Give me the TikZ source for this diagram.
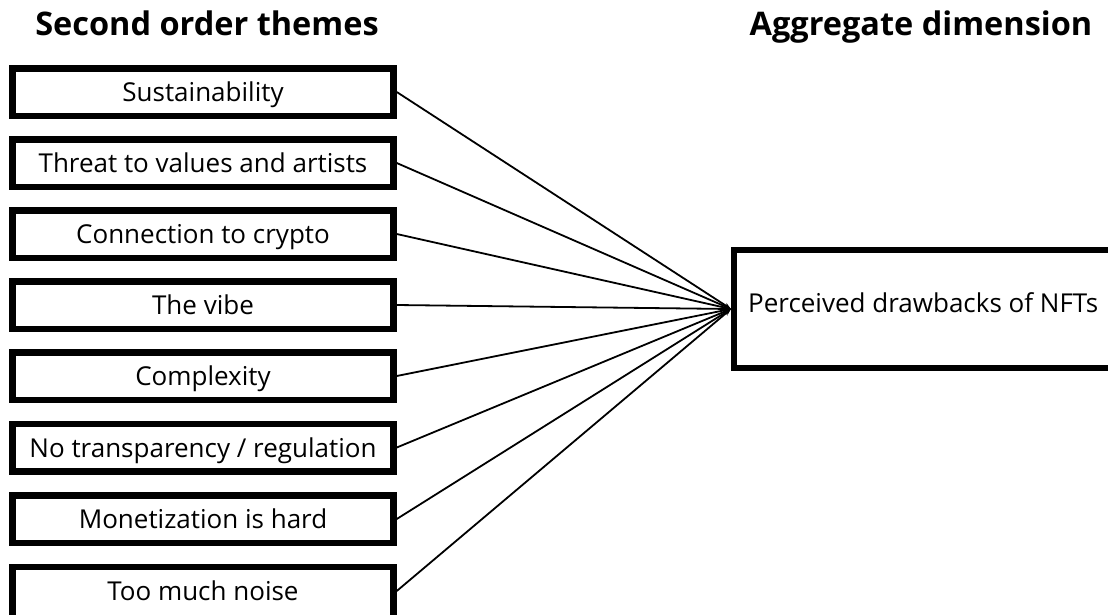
\documentclass[tikz,border=0pt]{standalone}
\usepackage{fontspec}
\setmainfont{Open Sans}
\usetikzlibrary{arrows.meta}
\begin{document}
\begin{tikzpicture}[x=1pt,y=-1pt,
  boxtext/.style={inner sep=0pt, text height=19pt, text depth=0pt,
    font=\fontsize{26}{30}\selectfont},
  theme/.style={boxtext, draw=black, line width=6.5pt, rectangle,
    minimum width=381pt, minimum height=47.5pt},
  aggbox/.style={draw=black, line width=6pt, rectangle, minimum width=420pt,
    minimum height=118pt, inner sep=0pt},
  heading/.style={inner sep=0pt, text height=23pt, text depth=0pt,
    font=\fontsize{32.5}{36}\selectfont\bfseries},
  link/.style={line width=1.8pt, -{Stealth[length=7pt,width=5pt]}}]
\useasboundingbox (0,0) rectangle (1108,614);
\clip (0,0) rectangle (1108,614);

% column headings
\node[heading] (h1) at (207,24) {Second order themes};
\node[heading] (h2) at (921,24) {Aggregate dimension};

% second order themes
\node[theme] (t1) at (203,92)    {Sustainability};
\node[theme] (t2) at (203,163)   {Threat to values and artists};
\node[theme] (t3) at (203,234)   {Connection to crypto};
\node[theme] (t4) at (203,305)   {The vibe};
\node[theme] (t5) at (203,376)   {Complexity};
\node[theme] (t6) at (203,447.5) {No transparency / regulation};
\node[theme] (t7) at (203,519)   {Monetization is hard};
% last box runs past the lower edge of the page
\node[theme, minimum height=60pt] (t8) at (203,597) {};
\node[boxtext] (t8text) at (203,591) {Too much noise};

% aggregate dimension
\node[aggbox] (agg) at (944,309) {};
\node[boxtext, anchor=west] (aggtext) at (748,302.5)
  {Perceived drawbacks of NFTs};

% connectors
\foreach \i in {1,...,7} {
  \draw[link] (t\i.east) -- (agg.west);
}
\draw[link] (t8.east |- t8text) -- (agg.west);
\end{tikzpicture}
\end{document}
